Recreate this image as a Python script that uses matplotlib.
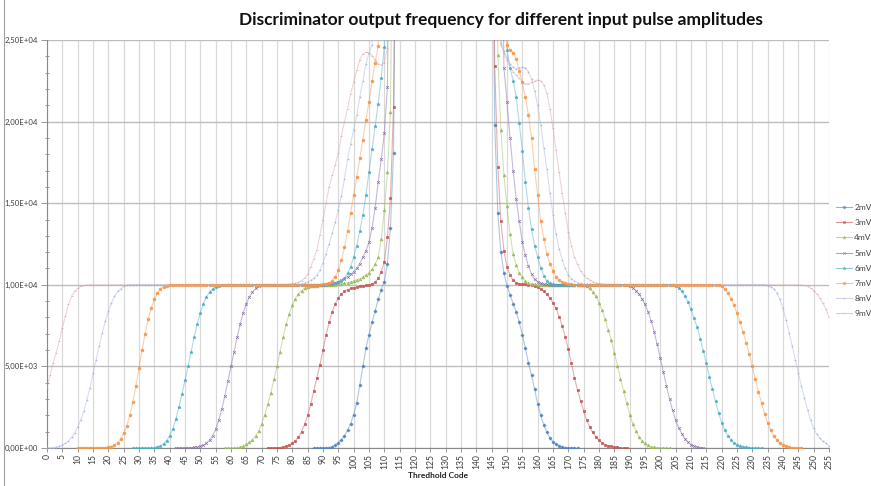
import numpy as np
import matplotlib.pyplot as plt
from matplotlib.lines import Line2D
from matplotlib.ticker import FuncFormatter, MultipleLocator

plt.rcParams['font.family'] = ['Lato', 'DejaVu Sans']

# Values, one count per threshold code.
# Each amplitude has a rising branch (left) and a falling branch (right).
# 40000 = first point above the 2,50E+04 axis limit (drawn clipped).

mv2_left = [0, 0, 0, 0, 10, 30, 80, 180, 330, 500,
            750, 1100, 1500, 2050, 2750, 3850, 5000, 6100, 6950, 7700,
            8400, 9100, 9700, 10200, 11300, 13500, 18100, 40000]
mv2_right = [40000, 19800, 14400, 12000, 10700, 9950, 9400, 8850, 8350, 7700,
             6950, 6100, 5200, 4450, 3600, 2700, 2000, 1400, 950, 620,
             380, 220, 120, 60, 30, 15, 5, 0, 0]

mv3_left = [0, 0, 0, 10, 30, 60, 110, 180, 300, 450,
            680, 1000, 1450, 2000, 2700, 3500, 4300, 5100, 6000, 6900,
            7700, 8350, 8850, 9200, 9450, 9600, 9700, 9780, 9830, 9870,
            9900, 9930, 9960, 10000, 10060, 10150, 10400, 10800, 11400, 12900,
            15300, 20900, 40000]
mv3_right = [40000, 23400, 17200, 13900, 12100, 11100, 10600, 10280, 10120, 10070,
             10040, 10020, 10000, 9970, 9930, 9860, 9740, 9600, 9420, 9200,
             8900, 8550, 8050, 7500, 6800, 6050, 5200, 4300, 3550, 2900,
             2250, 1700, 1280, 950, 680, 480, 320, 210, 140, 100,
             60, 40, 20, 10, 0]

mv4_left = [0, 0, 0, 10, 30, 70, 130, 220, 350, 520,
            750, 1050, 1500, 2050, 2700, 3400, 4200, 5000, 5900, 6800,
            7600, 8200, 8750, 9150, 9450, 9650, 9780, 9850, 9900, 9930,
            9950, 9970, 9980, 9990, 10000, 10000, 10010, 10030, 10050, 10080,
            10120, 10170, 10230, 10300, 10380, 10480, 10600, 10750, 10950, 11250,
            11700, 12800, 14600, 16900, 20600, 40000]
mv4_right = [40000, 24100, 19500, 16700, 14800, 13100, 11900, 11200, 10750, 10450,
             10250, 10120, 10060, 10030, 10010, 10000, 10000, 10000, 10000, 10000,
             10000, 10000, 10000, 10000, 10000, 10000, 10000, 10000, 10000, 9980,
             9900, 9780, 9570, 9290, 8900, 8450, 7900, 7250, 6600, 5850,
             5050, 4250, 3500, 2750, 2050, 1500, 1050, 700, 450, 280,
             160, 90, 50, 25, 10, 5, 0, 0]

mv5_left = [0, 0, 0, 0, 10, 20, 40, 70, 110, 180,
            300, 480, 750, 1150, 1700, 2400, 3200, 4100, 5000, 5900,
            6800, 7600, 8300, 8850, 9250, 9550, 9780, 9900, 9960, 9990,
            10000, 10000, 10000, 10000, 10000, 10000, 10000, 10000, 10000, 10000,
            10000, 10000, 10000, 10000, 10000, 10000, 10000, 10000, 10000, 10020,
            10050, 10080, 10130, 10200, 10280, 10380, 10500, 10650, 10800, 11000,
            11300, 11700, 12100, 12600, 13500, 14700, 16300, 17700, 19300, 22100,
            40000]
mv5_right = [40000, 23300, 21200, 19000, 17000, 15250, 13900, 12600, 11800, 11150,
             10650, 10330, 10170, 10080, 10040, 10020, 10000, 10000, 10000, 10000,
             10000, 10000, 10000, 10000, 10000, 10000, 10000, 10000, 10000, 10000,
             10000, 10000, 10000, 10000, 10000, 10000, 10000, 10000, 10000, 10000,
             10000, 9980, 9930, 9820, 9650, 9450, 9150, 8800, 8350, 7800,
             7100, 6350, 5500, 4650, 3800, 3000, 2300, 1700, 1250, 880,
             580, 360, 210, 120, 60, 30, 10]

mv6_left = [0, 0, 0, 0, 0, 0, 10, 30, 70, 140,
            260, 450, 750, 1150, 1750, 2500, 3300, 4150, 5000, 5900,
            6800, 7600, 8300, 8850, 9250, 9550, 9750, 9880, 9950, 9980,
            10000, 10000, 10000, 10000, 10000, 10000, 10000, 10000, 10000, 10000,
            10000, 10000, 10000, 10000, 10000, 10000, 10000, 10000, 10000, 10000,
            10000, 10000, 10000, 10000, 10000, 10000, 10000, 10000, 10000, 10000,
            10000, 10000, 10000, 10000, 10020, 10040, 10080, 10150, 10250, 10400,
            10700, 11100, 11700, 12400, 13300, 14300, 15500, 16900, 18300, 19700,
            21100, 22700, 24600, 40000]
mv6_right = [40000, 24400, 23300, 22500, 21500, 19900, 18200, 16300, 14700, 13400,
             12400, 11700, 11050, 10550, 10250, 10100, 10040, 10010, 10000, 10000,
             10000, 10000, 10000, 10000, 10000, 10000, 10000, 10000, 10000, 10000,
             10000, 10000, 10000, 10000, 10000, 10000, 10000, 10000, 10000, 10000,
             10000, 10000, 10000, 10000, 10000, 10000, 10000, 10000, 10000, 10000,
             10000, 10000, 10000, 10000, 10000, 9990, 9950, 9820, 9600, 9320,
             8950, 8500, 7950, 7400, 6700, 5950, 5200, 4350, 3600, 2850,
             2150, 1550, 1100, 750, 500, 320, 200, 120, 80, 50,
             30, 15, 5, 0, 0]

mv7_left = [0, 0, 0, 0, 0, 0, 0, 0, 0, 0,
            40, 90, 180, 330, 560, 900, 1350, 2000, 2800, 3800,
            4900, 6000, 7000, 7900, 8600, 9100, 9500, 9750, 9880, 9950,
            9980, 10000, 10000, 10000, 10000, 10000, 10000, 10000, 10000, 10000,
            10000, 10000, 10000, 10000, 10000, 10000, 10000, 10000, 10000, 10000,
            10000, 10000, 10000, 10000, 10000, 10000, 10000, 10000, 10000, 10000,
            10000, 10000, 10000, 10000, 10000, 10000, 10000, 10000, 10000, 10000,
            10000, 10000, 10000, 10000, 10000, 10000, 10000, 10000, 10000, 10000,
            10030, 10060, 10120, 10250, 10500, 10900, 11500, 12300, 13300, 14400,
            15500, 16600, 17750, 18900, 20100, 21200, 22500, 23600, 24650, 40000]
mv7_right = [40000, 24700, 24400, 24200, 23850, 23100, 22400, 21500, 20400, 19000,
             17100, 15500, 13900, 12800, 11900, 11300, 10850, 10500, 10280, 10150,
             10080, 10040, 10020, 10000, 10000, 10000, 10000, 10000, 10000, 10000,
             10000, 10000, 10000, 10000, 10000, 10000, 10000, 10000, 10000, 10000,
             10000, 10000, 10000, 10000, 10000, 10000, 10000, 10000, 10000, 10000,
             10000, 10000, 10000, 10000, 10000, 10000, 10000, 10000, 10000, 10000,
             10000, 10000, 10000, 10000, 10000, 10000, 10000, 10000, 10000, 10000,
             9980, 9900, 9750, 9500, 9150, 8750, 8250, 7700, 7100, 6450,
             5750, 5000, 4200, 3450, 2750, 2100, 1550, 1100, 750, 480,
             300, 180, 110, 60, 30, 15, 5, 0]

mv8_left = [0, 10, 30, 60, 100, 170, 280, 430, 650, 920,
            1300, 1730, 2240, 2960, 3670, 4590, 5410, 6220, 7040, 7760,
            8370, 8880, 9290, 9590, 9760, 9900, 9960, 9990, 10000, 10000,
            10000, 10000, 10000, 10000, 10000, 10000, 10000, 10000, 10000, 10000,
            10000, 10000, 10000, 10000, 10000, 10000, 10000, 10000, 10000, 10000,
            10000, 10000, 10000, 10000, 10000, 10000, 10000, 10000, 10000, 10000,
            10000, 10000, 10000, 10000, 10000, 10000, 10000, 10000, 10000, 10000,
            10000, 10000, 10000, 10000, 10000, 10000, 10000, 10000, 10000, 10000,
            10000, 10000, 10030, 10060, 10100, 10170, 10270, 10400, 10600, 10900,
            11350, 11900, 12500, 13150, 13850, 14600, 15450, 16500, 17700, 18650,
            19500, 20400, 21500, 22500, 23550, 24200, 24700, 40000]
mv8_right = [40000, 24800, 24300, 23900, 23550, 23350, 23250, 23300, 23350, 23300,
             23050, 22600, 21900, 21000, 19800, 18400, 17100, 15650, 14300, 13100,
             12200, 11550, 11000, 10600, 10380, 10230, 10130, 10080, 10040, 10020,
             10000, 10000, 10000, 10000, 10000, 10000, 10000, 10000, 10000, 10000,
             10000, 10000, 10000, 10000, 10000, 10000, 10000, 10000, 10000, 10000,
             10000, 10000, 10000, 10000, 10000, 10000, 10000, 10000, 10000, 10000,
             10000, 10000, 10000, 10000, 10000, 10000, 10000, 10000, 10000, 10000,
             10000, 10000, 10000, 10000, 10000, 10000, 10000, 10000, 10000, 10000,
             10000, 10000, 10000, 10000, 10000, 10000, 10000, 9990, 9950, 9880,
             9750, 9500, 9100, 8550, 7850, 7050, 6250, 5400, 4600, 3800,
             3050, 2350, 1700, 1200, 850, 600, 420, 280, 120]

mv9_left = [3700, 4450, 5200, 5850, 6550, 7350, 8100, 8800, 9300, 9600,
            9780, 9900, 9960, 9990, 10000, 10000, 10000, 10000, 10000, 10000,
            10000, 10000, 10000, 10000, 10000, 10000, 10000, 10000, 10000, 10000,
            10000, 10000, 10000, 10000, 10000, 10000, 10000, 10000, 10000, 10000,
            10000, 10000, 10000, 10000, 10000, 10000, 10000, 10000, 10000, 10000,
            10000, 10000, 10000, 10000, 10000, 10000, 10000, 10000, 10000, 10000,
            10000, 10000, 10000, 10000, 10000, 10000, 10000, 10000, 10000, 10000,
            10000, 10000, 10000, 10000, 10000, 10000, 10000, 10010, 10030, 10050,
            10070, 10100, 10150, 10250, 10400, 10650, 11100, 11600, 12150, 13050,
            14000, 15000, 16000, 16700, 17350, 18100, 19100, 20000, 20800, 21700,
            22400, 23150, 23800, 24150, 24250, 24200, 24050, 23800, 23550, 23450,
            23600, 24500, 40000]
mv9_right = [40000, 24700, 24200, 23750, 23350, 23050, 22850, 22650, 22450, 22330,
             22330, 22400, 22480, 22550, 22500, 22250, 21750, 20800, 19600, 18250,
             16900, 15600, 14400, 13250, 12400, 11700, 11250, 10850, 10600, 10420,
             10300, 10200, 10130, 10080, 10050, 10030, 10010, 10000, 10000, 10000,
             10000, 10000, 10000, 10000, 10000, 10000, 10000, 10000, 10000, 10000,
             10000, 10000, 10000, 10000, 10000, 10000, 10000, 10000, 10000, 10000,
             10000, 10000, 10000, 10000, 10000, 10000, 10000, 10000, 10000, 10000,
             10000, 10000, 10000, 10000, 10000, 10000, 10000, 10000, 10000, 10000,
             10000, 10000, 10000, 10000, 10000, 10000, 10000, 10000, 10000, 10000,
             10000, 10000, 10000, 10000, 10000, 10000, 10000, 10000, 10000, 9990,
             9960, 9900, 9800, 9650, 9450, 9200, 8900, 8500, 8000]

labels = ["2mV", "3mV", "4mV", "5mV", "6mV", "7mV", "8mV", "9mV"]
left_branches = [mv2_left, mv3_left, mv4_left, mv5_left, mv6_left, mv7_left, mv8_left, mv9_left]
right_branches = [mv2_right, mv3_right, mv4_right, mv5_right, mv6_right, mv7_right, mv8_right, mv9_right]
# threshold code of the first point of each branch
left_starts = [87, 72, 58, 42, 28, 10, 0, 0]
right_starts = [145, 145, 146, 148, 149, 149, 147, 147]

colors = ["#4F81BD", "#C0504D", "#9BBB59", "#8064A2", "#4BACC6", "#F79646", "#A5B6DC", "#D9A3A6"]
markers = ["D", "s", "^", "x", "*", "o", "+", "_"]
marker_sizes = [1.6, 1.8, 2.0, 2.0, 2.4, 2.0, 1.8, 1.8]


def sci_comma(v, pos):
    return f"{v:.2E}".replace(".", ",")


fig = plt.figure(figsize=(8.71, 4.86), dpi=100)
ax = fig.add_axes([47 / 871, 38 / 486, 782 / 871, 408 / 486])

for i, lab in enumerate(labels):
    xl = np.arange(left_starts[i], left_starts[i] + len(left_branches[i]))
    xr = np.arange(right_starts[i], right_starts[i] + len(right_branches[i]))
    x = np.concatenate([xl, [np.nan], xr])
    y = np.concatenate([np.array(left_branches[i], float), [np.nan],
                        np.array(right_branches[i], float)])
    ax.plot(x, y, color=colors[i], alpha=0.45, lw=0.8, zorder=3)
    ax.plot(x, y, ls="none", marker=markers[i], ms=marker_sizes[i],
            mfc=colors[i], mec=colors[i], mew=0.5, alpha=0.9, zorder=4, label=lab)

ax.set_xlim(0, 255)
ax.set_ylim(0, 25000)
ax.xaxis.set_major_locator(MultipleLocator(5))
ax.yaxis.set_major_locator(MultipleLocator(5000))
ax.yaxis.set_minor_locator(MultipleLocator(1000))
ax.yaxis.set_major_formatter(FuncFormatter(sci_comma))

ax.grid(axis="x", color="#d9d9d9", lw=0.9, zorder=0)
ax.grid(axis="y", color="#bdbdbd", lw=1.0, zorder=0)
ax.set_axisbelow(True)

for s in ["top", "right"]:
    ax.spines[s].set_visible(False)
for s in ["left", "bottom"]:
    ax.spines[s].set_color("#898989")
    ax.spines[s].set_linewidth(0.8)

ax.tick_params(axis="x", which="major", direction="out", length=3, width=0.6,
               color="#898989", labelsize=6.2, labelcolor="#404040",
               labelrotation=90, pad=1.5)
ax.tick_params(axis="y", which="major", direction="out", length=4, width=0.6,
               color="#898989", labelsize=5.6, labelcolor="#404040", pad=2.5)
ax.tick_params(axis="y", which="minor", direction="inout", length=3, width=0.6,
               color="#898989")

ax.set_xlabel("Thredhold Code", fontsize=6, fontweight="bold", color="#222222", labelpad=2)

fig.text(501 / 871, 1 - 20 / 486,
         "Discriminator output frequency for different input pulse amplitudes",
         ha="center", va="center", fontsize=12.5, fontweight="bold", color="#111111")

# chart area border (left edge is the only part inside the crop)
fig.add_artist(Line2D([4 / 871, 4 / 871], [0, 1], transform=fig.transFigure,
                      color="#a0a0a0", lw=0.8))

handles = [Line2D([0], [0], color=c, alpha=0.6, lw=0.8, marker=m, ms=ms,
                  mfc=c, mec=c, mew=0.5)
           for c, m, ms in zip(colors, markers, marker_sizes)]
fig.legend(handles, labels, loc="upper left",
           bbox_to_anchor=(836 / 871, 1 - 204 / 486), frameon=False,
           fontsize=6.0, handlelength=1.9, handletextpad=0.3,
           labelspacing=0.98, borderpad=0, borderaxespad=0, labelcolor="#404040")

fig.savefig("out.png", dpi=100)
